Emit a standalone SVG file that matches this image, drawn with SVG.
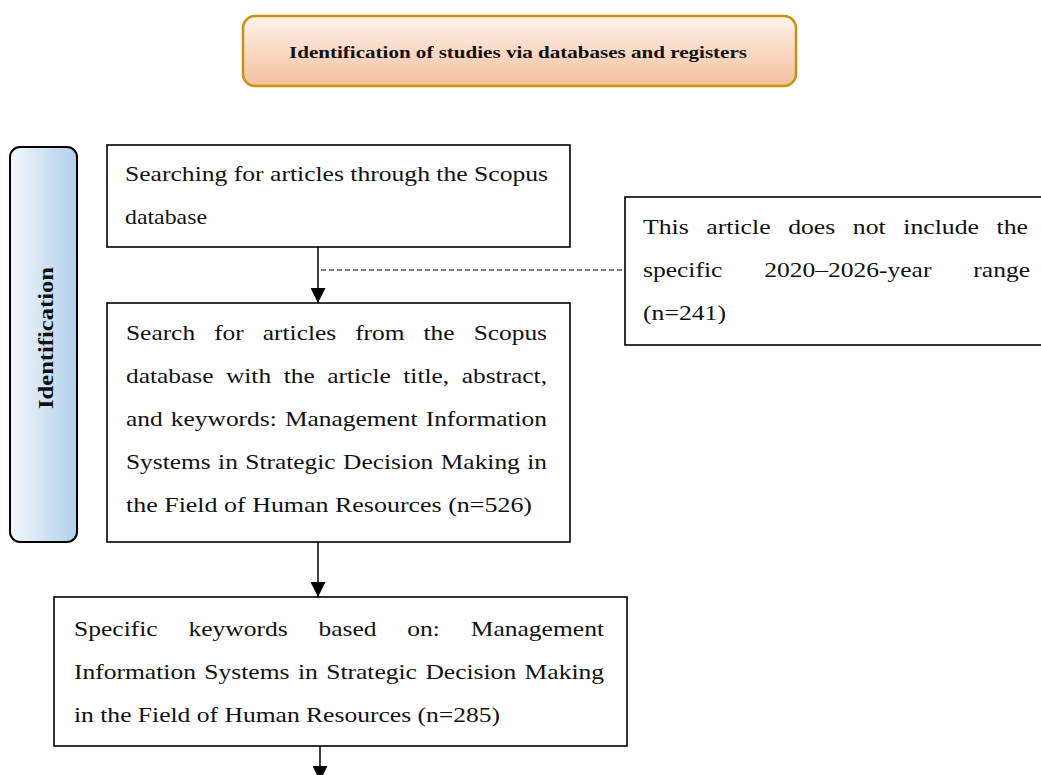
<svg xmlns="http://www.w3.org/2000/svg" width="1041" height="775" viewBox="0 0 1041 775">
  <defs>
    <linearGradient id="gTitle" x1="0" y1="0" x2="0" y2="1">
      <stop offset="0" stop-color="#FEF3EC"/>
      <stop offset="1" stop-color="#F4C09E"/>
    </linearGradient>
    <linearGradient id="gSide" x1="0" y1="0" x2="1" y2="0">
      <stop offset="0" stop-color="#F3F7FC"/>
      <stop offset="1" stop-color="#B2D0EB"/>
    </linearGradient>
    <marker id="arrow" markerUnits="userSpaceOnUse" markerWidth="15" markerHeight="15" refX="15" refY="7.5" orient="auto">
      <path d="M0,0 L15,7.5 L0,15 Z" fill="#000"/>
    </marker>
    <style>
      .box { fill: #fff; stroke: #000; stroke-width: 1.6; }
      .t { font-family: "Liberation Serif", "Times New Roman", serif; font-size: 22px; fill: #111; }
      .tb { font-family: "Liberation Serif", "Times New Roman", serif; font-weight: bold; fill: #111; }
      .conn { fill: none; stroke: #000; stroke-width: 1.5; }
      .dash { fill: none; stroke: #555; stroke-width: 1.5; stroke-dasharray: 5 3; }
    </style>
  </defs>
  <rect width="1041" height="775" fill="#fff"/>

  <g id="title">
    <rect x="243" y="16" width="553" height="70" rx="12" ry="12" fill="url(#gTitle)" stroke="#C8920F" stroke-width="2.5"/>
    <text class="tb" x="518" y="58" font-size="17" text-anchor="middle" textLength="458" lengthAdjust="spacingAndGlyphs">Identification of studies via databases and registers</text>
  </g>

  <g id="side-identification">
    <rect x="10" y="147" width="67" height="395" rx="10" ry="10" fill="url(#gSide)" stroke="#000" stroke-width="2"/>
    <text class="tb" font-size="20" text-anchor="middle" transform="translate(53,338) rotate(-90)" textLength="142" lengthAdjust="spacingAndGlyphs">Identification</text>
  </g>

  <g id="connectors">
    <line class="conn" x1="318" y1="247" x2="318" y2="303" marker-end="url(#arrow)"/>
    <line class="dash" x1="321" y1="270" x2="625" y2="270"/>
    <line class="conn" x1="318" y1="542" x2="318" y2="597" marker-end="url(#arrow)"/>
    <line class="conn" x1="320" y1="746" x2="320" y2="781" marker-end="url(#arrow)"/>
  </g>

  <g id="box-search">
    <rect class="box" x="107" y="145" width="463" height="102"/>
    <text class="t" x="125" y="181" textLength="423" lengthAdjust="spacingAndGlyphs">Searching for articles through the Scopus</text>
    <text class="t" x="125" y="224" textLength="82" lengthAdjust="spacingAndGlyphs">database</text>
  </g>

  <g id="box-scopus">
    <rect class="box" x="107" y="303" width="463" height="239"/>
    <text class="t" x="126" y="340" textLength="421" lengthAdjust="spacingAndGlyphs" style="word-spacing:11px">Search for articles from the Scopus</text>
    <text class="t" x="126" y="383" textLength="421" lengthAdjust="spacingAndGlyphs" style="word-spacing:5.4px">database with the article title, abstract,</text>
    <text class="t" x="126" y="426" textLength="421" lengthAdjust="spacingAndGlyphs" style="word-spacing:1.6px">and keywords: Management Information</text>
    <text class="t" x="126" y="469" textLength="421" lengthAdjust="spacingAndGlyphs" style="word-spacing:1px">Systems in Strategic Decision Making in</text>
    <text class="t" x="126" y="512" textLength="406" lengthAdjust="spacingAndGlyphs">the Field of Human Resources (n=526)</text>
  </g>

  <g id="box-excluded">
    <rect class="box" x="625" y="197" width="425" height="148"/>
    <text class="t" x="643" y="234" textLength="385" lengthAdjust="spacingAndGlyphs" style="word-spacing:9.5px">This article does not include the</text>
    <text class="t" x="643" y="277" textLength="387" lengthAdjust="spacingAndGlyphs" style="word-spacing:30.6px">specific 2020–2026-year range</text>
    <text class="t" x="643" y="320" textLength="83" lengthAdjust="spacingAndGlyphs">(n=241)</text>
  </g>

  <g id="box-keywords">
    <rect class="box" x="54" y="597" width="573" height="149"/>
    <text class="t" x="74" y="636" textLength="530" lengthAdjust="spacingAndGlyphs" style="word-spacing:21px">Specific keywords based on: Management</text>
    <text class="t" x="74" y="679" textLength="530" lengthAdjust="spacingAndGlyphs" style="word-spacing:1.8px">Information Systems in Strategic Decision Making</text>
    <text class="t" x="74" y="722" textLength="426" lengthAdjust="spacingAndGlyphs">in the Field of Human Resources (n=285)</text>
  </g>
</svg>
